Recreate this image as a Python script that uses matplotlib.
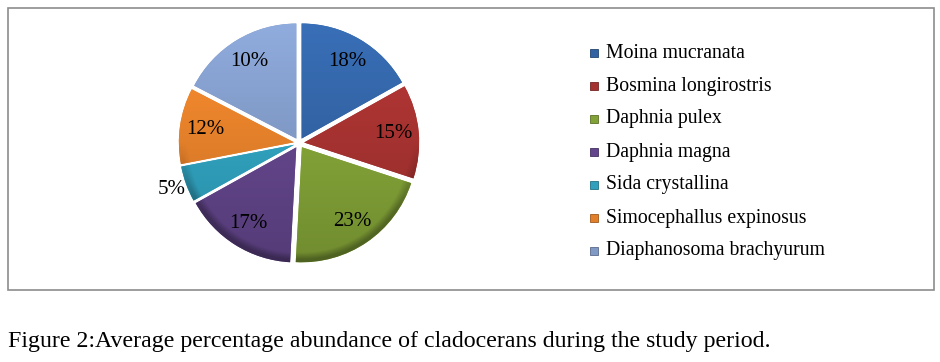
import numpy as np
import matplotlib
matplotlib.use('Agg')
import matplotlib.pyplot as plt
from matplotlib.patches import Rectangle
from matplotlib.colors import to_rgb

# slice sizes as read from the drawn wedges, and the percentage text printed on them
species = ['Moina mucranata', 'Bosmina longirostris', 'Daphnia pulex', 'Daphnia magna',
           'Sida crystallina', 'Simocephallus expinosus', 'Diaphanosoma brachyurum']
values = [16.8, 13.1, 20.7, 16.0, 5.0, 10.6, 17.3]
pct_labels = ['18%', '15%', '23%', '17%', '5%', '12%', '10%']
colors = ['#3262a2', '#a43230', '#82a237', '#62458a', '#30a0bc', '#e27f2a', '#7f98c4']

caption = 'Figure 2:Average percentage abundance of cladocerans during the study period.'

W, H = 940, 362
fig = plt.figure(figsize=(W / 100, H / 100), dpi=100)
fig.patch.set_facecolor('white')

# outer chart frame
fig.add_artist(Rectangle((8 / W, 72 / H), 926 / W, 282 / H, transform=fig.transFigure,
                         fill=False, edgecolor='#8c8c8c', linewidth=1.2))

# pie axes, square in pixels
R = 115
cx, cy = 299, H - 143
half = 1.3 * R
ax = fig.add_axes([(cx - half) / W, (cy - half) / H, 2 * half / W, 2 * half / H])

wedges, _ = ax.pie(values, colors=colors, startangle=90, counterclock=False,
                   explode=[0.045] * len(values), radius=1.0,
                   wedgeprops=dict(linewidth=0))

# Excel-like shading: lighter towards the top, darker rim on the lower side
g = np.linspace(-1.3, 1.3, 400)
X, Y = np.meshgrid(g, g)
for w, c in zip(wedges, colors):
    base = np.array(to_rgb(c))
    wx, wy = w.center
    dx, dy = X - wx, Y - wy
    rr = np.hypot(dx, dy) / w.r
    light = 1.0 + 0.13 * Y
    rim = np.clip((rr - 0.92) / 0.06, 0, 1) * np.clip(-dy * 1.8, 0, 1)
    light = light * (1 - 0.3 * rim)
    rgb = np.clip(base[None, None, :] * light[:, :, None], 0, 1)
    im = ax.imshow(rgb, extent=[-1.3, 1.3, -1.3, 1.3], origin='lower',
                   zorder=w.get_zorder() + 0.1, interpolation='bilinear')
    im.set_clip_path(w)

ax.set_xlim(-1.3, 1.3)
ax.set_ylim(-1.3, 1.3)
ax.axis('off')

# percentage labels
for w, v, lab in zip(wedges, values, pct_labels):
    mid = np.deg2rad((w.theta1 + w.theta2) / 2)
    d = 1.13 if v < 7 else 0.78
    ax.text(w.center[0] + d * np.cos(mid), w.center[1] + d * np.sin(mid), lab,
            ha='center', va='center', fontsize=15, family='Liberation Serif',
            color='black', zorder=10)

# legend
row_y = 53
for name, c in zip(species, colors):
    y = H - row_y
    fig.add_artist(Rectangle((590 / W, (y - 4) / H), 8 / W, 8 / H, transform=fig.transFigure,
                             facecolor=c, edgecolor=np.array(to_rgb(c)) * 0.7, linewidth=0.6))
    fig.text(606 / W, y / H, name, ha='left', va='center', fontsize=14.2,
             family='Liberation Serif', color='black')
    row_y += 33

fig.text(8 / W, (H - 342) / H, caption, ha='left', va='center', fontsize=17.2,
         family='Liberation Serif', color='black')

fig.savefig('out.png', dpi=100)
